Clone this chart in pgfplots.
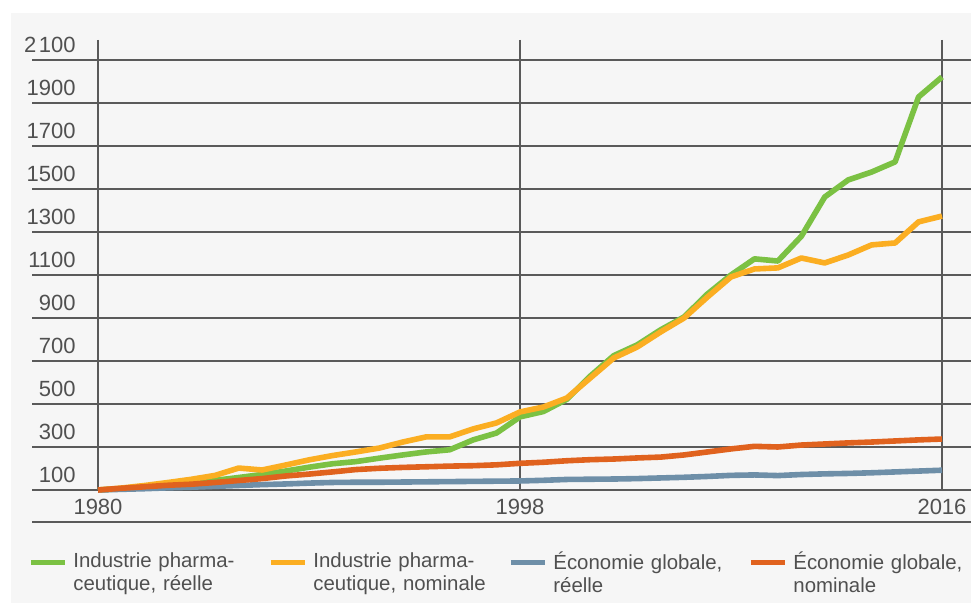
\documentclass[border=0pt]{standalone}
\usepackage{fontspec}
\setmainfont{Liberation Sans}
\usepackage{pgfplots}
\pgfplotsset{compat=1.18}
\usepackage{pgfplotstable}

\definecolor{bgray}{HTML}{F6F6F6}
\definecolor{gridc}{HTML}{5A5A5A}
\definecolor{txt}{HTML}{505050}
\definecolor{cgreen}{HTML}{7BC143}
\definecolor{corange}{HTML}{FBAE22}
\definecolor{cblue}{HTML}{6E8FA8}
\definecolor{cred}{HTML}{E0621E}

% year, pharma real, pharma nominal, economy real, economy nominal
\pgfplotstableread{
year  pr    pn    er   en
1980  100   100   100  100
1981  106   109   103  108
1982  114   121   106  115
1983  123   135   110  122
1984  133   150   113  127
1985  145   168   117  135
1986  158   202   121  144
1987  172   193   125  153
1988  188   216   128  165
1989  206   240   132  174
1990  222   260   135  184
1991  232   277   136  195
1992  248   295   136  201
1993  263   323   137  205
1994  277   347   138  208
1995  287   347   139  211
1996  333   384   140  213
1997  365   412   141  217
1998  440   463   142  224
1999  465   486   145  229
2000  522   528   149  236
2001  630   621   150  241
2002  725   714   151  244
2003  775   765   153  249
2004  845   835   156  253
2005  905   900   159  263
2006  1012  998   163  277
2007  1100  1091  168  291
2008  1175  1128  170  303
2009  1165  1133  167  300
2010  1280  1179  172  309
2011  1463  1156  175  314
2012  1542  1193  177  319
2013  1579  1240  180  323
2014  1626  1249  184  328
2015  1928  1347  188  333
2016  2021  1374  192  337
}\datatable

\begin{document}
\begin{tikzpicture}
\fill[white] (0,0) rectangle (485.5pt,301.5pt);
\fill[bgray] (5.5pt,0) rectangle (485.5pt,295pt);
\begin{axis}[
  at={(49pt,56.5pt)}, anchor=south west,
  scale only axis, width=422pt, height=215pt,
  xmin=1980, xmax=2016, ymin=100, ymax=2100,
  clip=false,
  axis line style={draw=none},
  major tick length=0pt,
  tick style={draw=none},
  xtick={1980,1998,2016},
  xticklabels={1980,1998,2016},
  ytick={100,300,500,700,900,1100,1300,1500,1700,1900,2100},
  yticklabels={100,300,500,700,900,1100,1300,1500,1700,1900,2\kern0.12em100},
  tick label style={font=\fontsize{11}{13}\selectfont, text=txt, inner sep=0pt},
  yticklabel style={anchor=east, xshift=-11pt, yshift=7.75pt},
  xticklabel style={anchor=center, yshift=-8.5pt},
  legend columns=4,
  legend cell align=left,
  legend style={draw=none, fill=none, inner sep=0pt,
    at={(-0.0829,-0.1674)}, anchor=west,
    font=\fontsize{10.2}{11.5}\selectfont, text=txt,
    nodes={inner sep=0pt},
    cells={text width=90pt, align=left, inner sep=0pt},
    /tikz/every odd column/.append style={column sep=3pt},
    /tikz/every even column/.append style={column sep=7.5pt}},
  legend image code/.code={\draw[#1, line width=2.5pt] (0pt,-0.5pt) -- (17pt,-0.5pt);},
]
\pgfplotsinvokeforeach{100,300,500,700,900,1100,1300,1500,1700,1900,2100}{
  \draw[gridc, line width=0.7pt] (axis cs:1977.185,#1) -- (axis cs:2017.32,#1);
}
\draw[gridc, line width=0.7pt] (axis cs:1977.185,-48.84) -- (axis cs:2017.32,-48.84);
\pgfplotsinvokeforeach{1980,1998,2016}{
  \draw[gridc, line width=0.7pt] (axis cs:#1,2193) -- (axis cs:#1,100);
}
\addplot[cgreen, line width=2.8pt, line join=round] table[x=year, y=pr] {\datatable};
\addlegendentry{Industrie pharma-\\ceutique, réelle}
\addplot[corange, line width=2.8pt, line join=round] table[x=year, y=pn] {\datatable};
\addlegendentry{Industrie pharma-\\ceutique, nominale}
\addplot[cblue, line width=2.8pt, line join=round] table[x=year, y=er] {\datatable};
\addlegendentry{Économie globale,\\réelle}
\addplot[cred, line width=2.8pt, line join=round] table[x=year, y=en] {\datatable};
\addlegendentry{Économie globale,\\nominale}
\end{axis}
\pgfresetboundingbox
\useasboundingbox (0,0) rectangle (485.5pt,301.5pt);
\end{tikzpicture}
\end{document}
